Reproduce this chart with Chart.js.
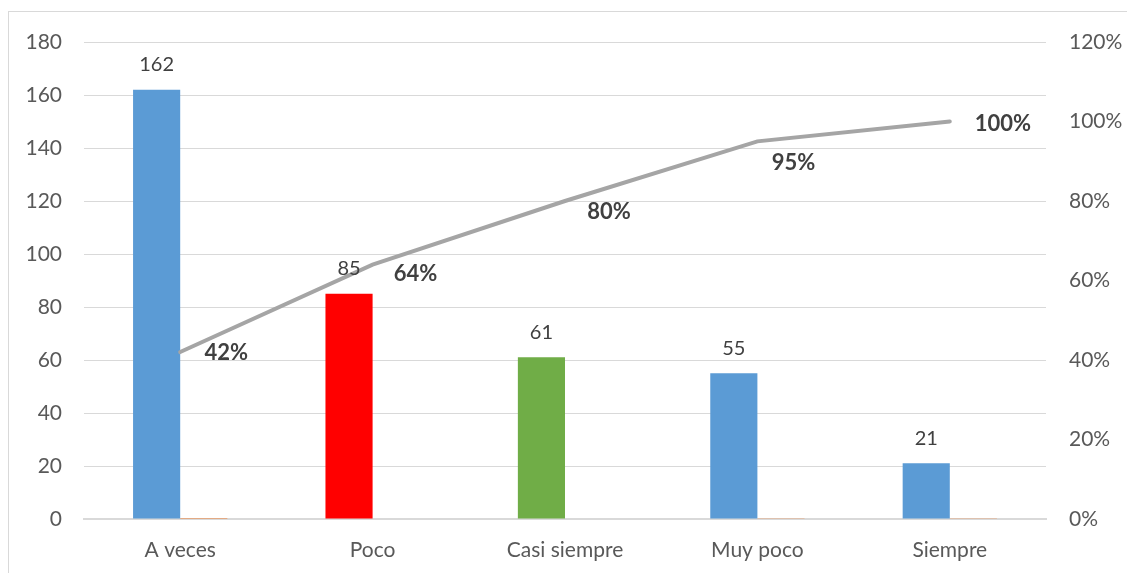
<!DOCTYPE html>
<html>
<head>
<meta charset="utf-8">
<script src="https://cdn.jsdelivr.net/npm/chart.js@4/dist/chart.umd.min.js"></script>
<style>
  html, body { margin: 0; padding: 0; background: #fff; overflow: hidden; }
  #wrap { position: relative; width: 1127px; height: 573px; }
  #frame { position: absolute; left: 8px; top: 11px; width: 1200px; height: 700px;
           border: 1px solid #d9d9d9; box-sizing: border-box; }
  canvas { position: absolute; left: 0; top: 0; }
</style>
</head>
<body>
<div id="wrap">
  <div id="frame"></div>
  <canvas id="chart" width="1127" height="573"></canvas>
</div>
<script>
// Frequency of each answer, sorted for a Pareto view
const categories = ['A veces', 'Poco', 'Casi siempre', 'Muy poco', 'Siempre'];
const counts = [162, 85, 61, 55, 21];
const shares = [0.42, 0.22, 0.16, 0.14, 0.05];
const cumulative = [0.42, 0.64, 0.80, 0.95, 1.00];
const barColors = ['#5B9BD5', '#FF0000', '#70AD47', '#5B9BD5', '#5B9BD5'];
const leftTicks = [0, 20, 40, 60, 80, 100, 120, 140, 160, 180];
const rightTicks = [0, 0.2, 0.4, 0.6, 0.8, 1.0, 1.2];

// Where each cumulative label sits relative to its point (px)
const pctLabelOffsets = [[46, 1], [43, 9], [44, 11], [36, 22], [53, 2]];

const FONT = 'Lato, "Open Sans", sans-serif';

const labelPlugin = {
  id: 'valueLabels',
  afterDatasetsDraw(chart) {
    const ctx = chart.ctx;
    ctx.save();
    ctx.textAlign = 'center';
    ctx.textBaseline = 'middle';
    // counts above bars
    const barMeta = chart.getDatasetMeta(0);
    ctx.font = '20px ' + FONT;
    ctx.fillStyle = '#404040';
    barMeta.data.forEach((el, i) => {
      ctx.fillText(String(counts[i]), el.x, el.y - 25);
    });
    // cumulative percentages beside the line
    const lineMeta = chart.getDatasetMeta(2);
    ctx.font = 'bold 22px ' + FONT;
    lineMeta.data.forEach((pt, i) => {
      const [dx, dy] = pctLabelOffsets[i];
      ctx.fillText(Math.round(cumulative[i] * 100) + '%', pt.x + dx, pt.y + dy);
    });
    ctx.restore();
  }
};

new Chart(document.getElementById('chart'), {
  type: 'bar',
  data: {
    labels: categories,
    datasets: [
      {
        label: 'Frecuencia',
        data: counts,
        backgroundColor: barColors,
        yAxisID: 'y',
        order: 2,
        categoryPercentage: 0.49,
        barPercentage: 1.0
      },
      {
        label: 'Porcentaje',
        data: shares,
        backgroundColor: '#ED7D31',
        yAxisID: 'y',
        order: 3,
        categoryPercentage: 0.49,
        barPercentage: 1.0
      },
      {
        type: 'line',
        label: 'Acumulado',
        data: cumulative,
        yAxisID: 'y2',
        borderColor: '#A5A5A5',
        borderWidth: 4,
        borderCapStyle: 'round',
        pointRadius: 0,
        tension: 0,
        order: 1
      }
    ]
  },
  options: {
    responsive: false,
    animation: false,
    devicePixelRatio: 1,
    layout: { padding: { top: 42, left: 0, right: 0, bottom: 0 } },
    plugins: { legend: { display: false }, tooltip: { enabled: false } },
    scales: {
      x: {
        offset: true,
        grid: { display: false },
        border: { display: true, color: '#d9d9d9', width: 2 },
        ticks: { color: '#595959', font: { family: FONT, size: 21 }, padding: 11 },
        afterFit(s) { s.height = 54; }
      },
      y: {
        position: 'left',
        min: 0, max: 180,
        afterBuildTicks(s) { s.ticks = leftTicks.map(v => ({ value: v })); },
        grid: { color: '#d9d9d9', lineWidth: 1, drawTicks: false },
        border: { display: false },
        ticks: { color: '#595959', font: { family: FONT, size: 21 }, padding: 22 },
        afterFit(s) { s.width = 84; }
      },
      y2: {
        position: 'right',
        min: 0, max: 1.2,
        afterBuildTicks(s) { s.ticks = rightTicks.map(v => ({ value: v })); },
        grid: { display: false, drawTicks: false },
        border: { display: false },
        ticks: {
          color: '#595959', font: { family: FONT, size: 21 }, padding: 23,
          callback: v => Math.round(v * 100) + '%'
        },
        afterFit(s) { s.width = 81; }
      }
    }
  },
  plugins: [labelPlugin]
});
</script>
</body>
</html>
